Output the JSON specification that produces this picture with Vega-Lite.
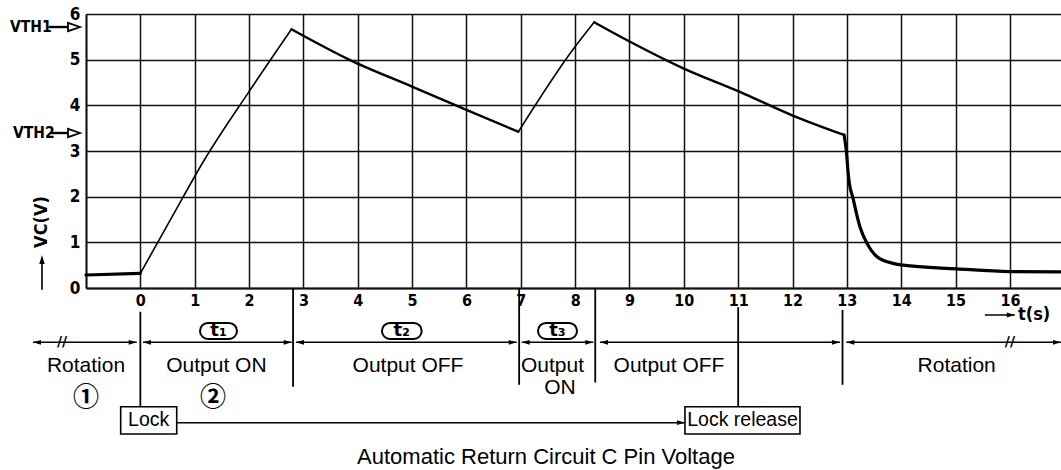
{
  "$schema": "https://vega.github.io/schema/vega-lite/v6.json",
  "width": 975,
  "height": 274,
  "autosize": {"type": "none"},
  "padding": {"left": 86, "top": 14, "right": 0, "bottom": 182},
  "background": "white",
  "config": {"view": {"stroke": null}, "font": "Liberation Sans"},
  "datasets": {
    "curve": [
      {"seg": "r1", "phase": "rotation", "t": -1, "v": 0.285},
      {"seg": "r1", "phase": "rotation", "t": 0, "v": 0.32},
      {"seg": "c1", "phase": "charge", "t": 0, "v": 0.32},
      {"seg": "c1", "phase": "charge", "t": 0.58, "v": 1.55},
      {"seg": "c1", "phase": "charge", "t": 1.16, "v": 2.77},
      {"seg": "c1", "phase": "charge", "t": 2.0, "v": 4.3},
      {"seg": "c1", "phase": "charge", "t": 2.78, "v": 5.665},
      {"seg": "d1", "phase": "discharge", "t": 2.78, "v": 5.665},
      {"seg": "d1", "phase": "discharge", "t": 3.86, "v": 4.99},
      {"seg": "d1", "phase": "discharge", "t": 5.02, "v": 4.4},
      {"seg": "d1", "phase": "discharge", "t": 6.0, "v": 3.9},
      {"seg": "d1", "phase": "discharge", "t": 6.955, "v": 3.42},
      {"seg": "c2", "phase": "charge", "t": 6.955, "v": 3.42},
      {"seg": "c2", "phase": "charge", "t": 7.94, "v": 5.19},
      {"seg": "c2", "phase": "charge", "t": 8.35, "v": 5.82},
      {"seg": "d2", "phase": "discharge", "t": 8.35, "v": 5.82},
      {"seg": "d2", "phase": "discharge", "t": 8.95, "v": 5.43},
      {"seg": "d2", "phase": "discharge", "t": 9.99, "v": 4.81},
      {"seg": "d2", "phase": "discharge", "t": 11.02, "v": 4.3},
      {"seg": "d2", "phase": "discharge", "t": 12.015, "v": 3.77},
      {"seg": "d2", "phase": "discharge", "t": 12.95, "v": 3.35},
      {"seg": "r2", "phase": "rotation", "t": 12.95, "v": 3.35},
      {"seg": "r2", "phase": "rotation", "t": 12.99, "v": 3.0},
      {"seg": "r2", "phase": "rotation", "t": 13.03, "v": 2.44},
      {"seg": "r2", "phase": "rotation", "t": 13.12, "v": 1.93},
      {"seg": "r2", "phase": "rotation", "t": 13.24, "v": 1.34},
      {"seg": "r2", "phase": "rotation", "t": 13.37, "v": 0.98},
      {"seg": "r2", "phase": "rotation", "t": 13.55, "v": 0.69},
      {"seg": "r2", "phase": "rotation", "t": 13.85, "v": 0.54},
      {"seg": "r2", "phase": "rotation", "t": 14.03, "v": 0.5},
      {"seg": "r2", "phase": "rotation", "t": 15.02, "v": 0.42},
      {"seg": "r2", "phase": "rotation", "t": 16.0, "v": 0.36},
      {"seg": "r2", "phase": "rotation", "t": 16.94, "v": 0.355}
    ],
    "verticals": [
      {"t": 0, "v": -0.52, "v2": -2.6},
      {"t": 2.81, "v": 0, "v2": -2.16},
      {"t": 6.97, "v": 0, "v2": -2.12},
      {"t": 8.37, "v": 0, "v2": -2.07},
      {"t": 11.0, "v": -0.42, "v2": -2.6},
      {"t": 12.92, "v": -0.48, "v2": -2.12}
    ],
    "dims": [
      {"t": -1.975, "t2": -0.067, "v": -1.189},
      {"t": 0.049, "t2": 2.785, "v": -1.189},
      {"t": 2.863, "t2": 6.925, "v": -1.189},
      {"t": 7.017, "t2": 8.334, "v": -1.189},
      {"t": 8.458, "t2": 12.873, "v": -1.189},
      {"t": 12.99, "t2": 16.94, "v": -1.189}
    ],
    "leaders": [
      {"t": 0.669, "t2": 10.021, "v": -2.95},
      {"t": 15.54, "t2": 16.09, "v": -0.591}
    ],
    "thresholds": [
      {"label": "VTH1", "v": 5.715, "tl": -2.398, "t": -1.69, "t2": -1.331, "tip": -1.11},
      {"label": "VTH2", "v": 3.394, "tl": -2.343, "t": -1.66, "t2": -1.331, "tip": -1.11}
    ],
    "pills": [
      {"label": "t₁", "t": 1.0975, "t2": 1.778, "v": -0.766, "v2": -1.117, "tc": 1.44, "vc": -0.942},
      {"label": "t₂", "t": 4.446, "t2": 5.177, "v": -0.766, "v2": -1.117, "tc": 4.81, "vc": -0.942},
      {"label": "t₃", "t": 7.317, "t2": 8.034, "v": -0.766, "v2": -1.117, "tc": 7.675, "vc": -0.942}
    ],
    "boxes": [
      {"label": "Lock", "t": -0.362, "t2": 0.669, "v": -2.599, "v2": -3.197, "tc": 0.154, "vc": -2.898},
      {"label": "Lock release", "t": 10.021, "t2": 12.137, "v": -2.599, "v2": -3.197, "tc": 11.08, "vc": -2.898}
    ],
    "phases": [
      {"label": "Rotation", "t": -1.0, "v": -1.708},
      {"label": "Output ON", "t": 1.4, "v": -1.708},
      {"label": "Output OFF", "t": 4.925, "v": -1.708},
      {"label": "Output", "t": 7.584, "v": -1.708},
      {"label": "ON", "t": 7.722, "v": -2.196},
      {"label": "Output OFF", "t": 9.727, "v": -1.708},
      {"label": "Rotation", "t": 15.02, "v": -1.708}
    ],
    "steps": [
      {"label": "①", "t": -1.0, "v": -2.409},
      {"label": "②", "t": 1.337, "v": -2.409}
    ],
    "breaks": [
      {"t": -1.44, "v": -1.189},
      {"t": 16.0, "v": -1.189}
    ],
    "unit": [{"label": "t(s)", "t": 16.15, "v": -0.591}],
    "vlabel": [{"label": "VC(V)", "t": -1.81, "v": 1.445}],
    "uparrow": [{"t": -1.81, "v": -0.04, "v2": 0.6, "tip": 0.723}],
    "caption": [{"label": "Automatic Return Circuit C Pin Voltage", "t": 7.464, "v": -3.85}]
  },
  "layer": [
    {
      "data": {"name": "curve"},
      "mark": {"type": "line", "color": "black", "strokeCap": "round", "strokeJoin": "round", "interpolate": "monotone"},
      "encoding": {
        "x": {
          "field": "t", "type": "quantitative",
          "scale": {"domain": [-1, 16.94], "nice": false, "zero": false},
          "axis": {
            "title": null,
            "values": [-1, 0, 1, 2, 3, 4, 5, 6, 7, 8, 9, 10, 11, 12, 13, 14, 15, 16],
            "grid": true, "gridColor": "#111", "gridWidth": 1.5, "gridOpacity": 1,
            "domain": true, "domainColor": "#111", "domainWidth": 1.8,
            "ticks": false, "labelPadding": 4,
            "labelFont": "Liberation Sans Narrow, DejaVu Sans Condensed, Roboto Condensed, Liberation Sans",
            "labelFontSize": 16, "labelFontWeight": "bold", "labelColor": "black",
            "labelFlush": false, "labelOverlap": false,
            "labelExpr": "datum.value < 0 ? '' : datum.label"
          }
        },
        "y": {
          "field": "v", "type": "quantitative",
          "scale": {"domain": [0, 6], "nice": false, "zero": false},
          "axis": {
            "title": null,
            "values": [0, 1, 2, 3, 4, 5, 6],
            "grid": true, "gridColor": "#111", "gridWidth": 1.5, "gridOpacity": 1,
            "domain": true, "domainColor": "#111", "domainWidth": 1.8,
            "ticks": false, "labelPadding": 6,
            "labelFont": "Liberation Sans Narrow, DejaVu Sans Condensed, Roboto Condensed, Liberation Sans",
            "labelFontSize": 17, "labelFontWeight": "bold", "labelColor": "black",
            "labelFlush": false, "labelOverlap": false
          }
        },
        "detail": {"field": "seg"},
        "strokeWidth": {
          "field": "phase", "type": "nominal",
          "scale": {"domain": ["charge", "discharge", "rotation"], "range": [1.6, 3.2, 3.2]},
          "legend": null
        }
      }
    },
    {
      "data": {"name": "verticals"},
      "mark": {"type": "rule", "color": "black", "strokeWidth": 1.8},
      "encoding": {
        "x": {"field": "t", "type": "quantitative"},
        "y": {"field": "v", "type": "quantitative"},
        "y2": {"field": "v2"}
      }
    },
    {
      "data": {"name": "dims"},
      "mark": {"type": "rule", "color": "black", "strokeWidth": 1.5},
      "encoding": {
        "x": {"field": "t", "type": "quantitative"},
        "x2": {"field": "t2"},
        "y": {"field": "v", "type": "quantitative"}
      }
    },
    {
      "data": {"name": "dims"},
      "mark": {"type": "point", "shape": "M0,0 L1,-0.3 L1,0.3 Z", "filled": true, "color": "black", "opacity": 1, "size": 256},
      "encoding": {
        "x": {"field": "t", "type": "quantitative"},
        "y": {"field": "v", "type": "quantitative"}
      }
    },
    {
      "data": {"name": "dims"},
      "mark": {"type": "point", "shape": "M0,0 L-1,-0.3 L-1,0.3 Z", "filled": true, "color": "black", "opacity": 1, "size": 256},
      "encoding": {
        "x": {"field": "t2", "type": "quantitative"},
        "y": {"field": "v", "type": "quantitative"}
      }
    },
    {
      "data": {"name": "leaders"},
      "mark": {"type": "rule", "color": "black", "strokeWidth": 1.5},
      "encoding": {
        "x": {"field": "t", "type": "quantitative"},
        "x2": {"field": "t2"},
        "y": {"field": "v", "type": "quantitative"}
      }
    },
    {
      "data": {"name": "leaders"},
      "mark": {"type": "point", "shape": "M0,0 L-1,-0.3 L-1,0.3 Z", "filled": true, "color": "black", "opacity": 1, "size": 256},
      "encoding": {
        "x": {"field": "t2", "type": "quantitative"},
        "y": {"field": "v", "type": "quantitative"}
      }
    },
    {
      "data": {"name": "thresholds"},
      "mark": {"type": "rule", "color": "black", "strokeWidth": 2.4},
      "encoding": {
        "x": {"field": "t", "type": "quantitative"},
        "x2": {"field": "t2"},
        "y": {"field": "v", "type": "quantitative"}
      }
    },
    {
      "data": {"name": "thresholds"},
      "mark": {"type": "point", "shape": "M0,0 L-1,-0.35 L-1,0.35 Z", "filled": false, "color": "black", "opacity": 1, "strokeWidth": 1.8, "size": 576},
      "encoding": {
        "x": {"field": "tip", "type": "quantitative"},
        "y": {"field": "v", "type": "quantitative"}
      }
    },
    {
      "data": {"name": "thresholds"},
      "mark": {"type": "text", "align": "left", "baseline": "middle", "font": "Liberation Sans Narrow, DejaVu Sans Condensed, Roboto Condensed, Liberation Sans", "fontSize": 15.5, "fontWeight": "bold", "color": "black"},
      "encoding": {
        "x": {"field": "tl", "type": "quantitative"},
        "y": {"field": "v", "type": "quantitative"},
        "text": {"field": "label"}
      }
    },
    {
      "data": {"name": "pills"},
      "mark": {"type": "rect", "cornerRadius": 8, "fill": "white", "stroke": "black", "strokeWidth": 2},
      "encoding": {
        "x": {"field": "t", "type": "quantitative"},
        "x2": {"field": "t2"},
        "y": {"field": "v", "type": "quantitative"},
        "y2": {"field": "v2"}
      }
    },
    {
      "data": {"name": "pills"},
      "mark": {"type": "text", "align": "center", "baseline": "middle", "font": "DejaVu Sans", "fontSize": 18, "fontWeight": "bold", "color": "black"},
      "encoding": {
        "x": {"field": "tc", "type": "quantitative"},
        "y": {"field": "vc", "type": "quantitative"},
        "text": {"field": "label"}
      }
    },
    {
      "data": {"name": "boxes"},
      "mark": {"type": "rect", "fill": "white", "stroke": "black", "strokeWidth": 1.6},
      "encoding": {
        "x": {"field": "t", "type": "quantitative"},
        "x2": {"field": "t2"},
        "y": {"field": "v", "type": "quantitative"},
        "y2": {"field": "v2"}
      }
    },
    {
      "data": {"name": "boxes"},
      "mark": {"type": "text", "align": "center", "baseline": "middle", "font": "Liberation Sans", "fontSize": 19.5, "color": "black"},
      "encoding": {
        "x": {"field": "tc", "type": "quantitative"},
        "y": {"field": "vc", "type": "quantitative"},
        "text": {"field": "label"}
      }
    },
    {
      "data": {"name": "phases"},
      "mark": {"type": "text", "align": "center", "baseline": "middle", "font": "Liberation Sans", "fontSize": 21, "color": "black"},
      "encoding": {
        "x": {"field": "t", "type": "quantitative"},
        "y": {"field": "v", "type": "quantitative"},
        "text": {"field": "label"}
      }
    },
    {
      "data": {"name": "steps"},
      "mark": {"type": "text", "align": "center", "baseline": "middle", "font": "Noto Sans CJK JP", "fontSize": 26, "fontWeight": "bold", "color": "black"},
      "encoding": {
        "x": {"field": "t", "type": "quantitative"},
        "y": {"field": "v", "type": "quantitative"},
        "text": {"field": "label"}
      }
    },
    {
      "data": {"name": "breaks"},
      "mark": {"type": "text", "align": "center", "baseline": "middle", "font": "DejaVu Sans", "fontSize": 14, "fontWeight": "bold", "color": "black", "text": "//"},
      "encoding": {
        "x": {"field": "t", "type": "quantitative"},
        "y": {"field": "v", "type": "quantitative"}
      }
    },
    {
      "data": {"name": "unit"},
      "mark": {"type": "text", "align": "left", "baseline": "middle", "font": "Liberation Sans Narrow, DejaVu Sans Condensed, Roboto Condensed, Liberation Sans", "fontSize": 18, "fontWeight": "bold", "color": "black"},
      "encoding": {
        "x": {"field": "t", "type": "quantitative"},
        "y": {"field": "v", "type": "quantitative"},
        "text": {"field": "label"}
      }
    },
    {
      "data": {"name": "vlabel"},
      "mark": {"type": "text", "align": "center", "baseline": "middle", "angle": 270, "font": "Liberation Sans Narrow, DejaVu Sans Condensed, Roboto Condensed, Liberation Sans", "fontSize": 18, "fontWeight": "bold", "color": "black"},
      "encoding": {
        "x": {"field": "t", "type": "quantitative"},
        "y": {"field": "v", "type": "quantitative"},
        "text": {"field": "label"}
      }
    },
    {
      "data": {"name": "uparrow"},
      "mark": {"type": "rule", "color": "black", "strokeWidth": 1.6},
      "encoding": {
        "x": {"field": "t", "type": "quantitative"},
        "y": {"field": "v", "type": "quantitative"},
        "y2": {"field": "v2"}
      }
    },
    {
      "data": {"name": "uparrow"},
      "mark": {"type": "point", "shape": "M0,0 L-0.3,1 L0.3,1 Z", "filled": true, "color": "black", "opacity": 1, "size": 324},
      "encoding": {
        "x": {"field": "t", "type": "quantitative"},
        "y": {"field": "tip", "type": "quantitative"}
      }
    },
    {
      "data": {"name": "caption"},
      "mark": {"type": "text", "align": "center", "baseline": "alphabetic", "font": "Liberation Sans", "fontSize": 22, "color": "black"},
      "encoding": {
        "x": {"field": "t", "type": "quantitative"},
        "y": {"field": "v", "type": "quantitative"},
        "text": {"field": "label"}
      }
    }
  ]
}
